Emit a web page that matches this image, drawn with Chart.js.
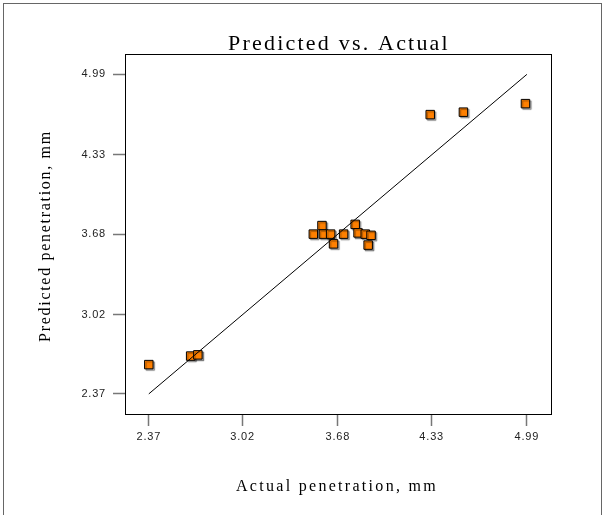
<!DOCTYPE html>
<html>
<head>
<meta charset="utf-8">
<script src="https://cdn.jsdelivr.net/npm/chart.js@4/dist/chart.umd.min.js"></script>
<style>
  html, body { margin: 0; padding: 0; background: #fff; }
  #wrap { width: 605px; height: 515px; }
</style>
</head>
<body>
<div id="wrap"><canvas id="c" width="605" height="515"></canvas></div>
<script>
// Actual vs predicted penetration depth (mm)
const actual    = [2.37, 2.66, 2.71, 3.51, 3.57, 3.58, 3.63, 3.65, 3.72, 3.80, 3.82, 3.87, 3.91, 3.89, 4.32, 4.55, 4.98];
const predicted = [2.61, 2.68, 2.69, 3.68, 3.75, 3.68, 3.68, 3.60, 3.68, 3.76, 3.69, 3.68, 3.67, 3.59, 4.66, 4.68, 4.75];
// Tick positions shared by both axes
const tickValues = [2.37, 3.02, 3.68, 4.33, 4.99];
// Ends of the y = x reference line
const lineEnds = [2.37, 4.99];

const titleText = 'Predicted vs. Actual';
const xTitle = 'Actual penetration, mm';
const yTitle = 'Predicted penetration, mm';

const AXIS_MIN = 2.205, AXIS_MAX = 5.157;

const points = actual.map((a, i) => ({ x: a, y: predicted[i] }));
const linePts = lineEnds.map(v => ({ x: v, y: v }));

const decor = {
  id: 'decor',
  beforeDraw(chart) {
    // slightly spaced tick digits
    chart.ctx.letterSpacing = '0.8px';
  },
  beforeDatasetDraw(chart, args) {
    if (args.index === 1) {
      const ctx = chart.ctx;
      ctx.save();
      ctx.shadowColor = 'rgba(0,0,0,0.35)';
      ctx.shadowOffsetX = 1.5;
      ctx.shadowOffsetY = 1.5;
      ctx.shadowBlur = 1;
    }
  },
  afterDatasetDraw(chart, args) {
    if (args.index === 1) chart.ctx.restore();
  },
  afterDraw(chart) {
    const ctx = chart.ctx;
    const a = chart.chartArea;
    ctx.save();
    // outer frame
    ctx.strokeStyle = '#666';
    ctx.lineWidth = 1;
    ctx.strokeRect(3.5, 3.5, 598, 530);
    // plot box
    ctx.strokeStyle = '#000';
    ctx.strokeRect(Math.round(a.left) + 0.5, Math.round(a.top) + 0.5,
                   Math.round(a.right - a.left), Math.round(a.bottom - a.top));
    // title
    ctx.fillStyle = '#000';
    ctx.textAlign = 'center';
    ctx.textBaseline = 'alphabetic';
    ctx.font = '22px "Liberation Serif", "Times New Roman", serif';
    ctx.letterSpacing = '2.2px';
    ctx.fillText(titleText, 339, 50);
    // axis titles
    ctx.font = '16px "Liberation Serif", "Times New Roman", serif';
    ctx.letterSpacing = '2.3px';
    ctx.fillText(xTitle, 337, 491);
    ctx.letterSpacing = '1.7px';
    ctx.translate(50, 236);
    ctx.rotate(-Math.PI / 2);
    ctx.fillText(yTitle, 0, 0);
    ctx.restore();
  }
};

const tickFont = { family: '"Liberation Sans", Arial, sans-serif', size: 11 };

function axis(pos) {
  return {
    type: 'linear',
    position: pos,
    min: AXIS_MIN,
    max: AXIS_MAX,
    afterBuildTicks(scale) { scale.ticks = tickValues.map(v => ({ value: v })); },
    afterFit(scale) {
      if (pos === 'left') scale.width = 125;
      else scale.height = 101;
    },
    border: { display: false },
    grid: {
      drawOnChartArea: false,
      drawTicks: true,
      tickLength: 12,
      tickColor: '#777',
      tickWidth: 1.5
    },
    ticks: {
      autoSkip: false,
      maxRotation: 0,
      color: '#222',
      font: tickFont,
      padding: pos === 'left' ? 7 : 4,
      callback: v => Number(v).toFixed(2)
    }
  };
}

new Chart(document.getElementById('c'), {
  type: 'scatter',
  data: {
    datasets: [
      {
        label: 'y = x',
        data: linePts,
        showLine: true,
        borderColor: '#000',
        borderWidth: 1,
        pointRadius: 0,
        fill: false
      },
      {
        label: 'Runs',
        data: points,
        pointStyle: 'rect',
        pointRadius: 6,
        backgroundColor: '#FF8000',
        borderColor: '#000',
        borderWidth: 1
      }
    ]
  },
  options: {
    responsive: false,
    animation: false,
    devicePixelRatio: 1,
    layout: { padding: { left: 0, top: 54, right: 54, bottom: 0 } },
    plugins: {
      legend: { display: false },
      title: { display: false },
      tooltip: { enabled: false }
    },
    scales: {
      x: axis('bottom'),
      y: axis('left')
    }
  },
  plugins: [decor]
});
</script>
</body>
</html>
